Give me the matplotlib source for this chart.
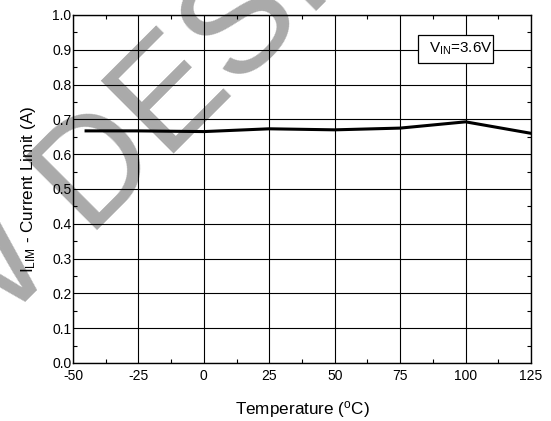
import matplotlib
matplotlib.use("Agg")
import matplotlib.pyplot as plt
from matplotlib.ticker import MultipleLocator
from matplotlib.patches import Rectangle

plt.rcParams['font.family'] = ['Liberation Sans', 'DejaVu Sans']
plt.rcParams['mathtext.fontset'] = 'custom'
plt.rcParams['mathtext.rm'] = 'Liberation Sans'
plt.rcParams['mathtext.it'] = 'Liberation Sans'

# данные
temperature = [-45, -25, 0, 25, 50, 75, 100, 125]
current_limit = [0.667, 0.667, 0.665, 0.673, 0.670, 0.675, 0.693, 0.660]
x_ticks = [-50, -25, 0, 25, 50, 75, 100, 125]
y_ticks = [0.0, 0.1, 0.2, 0.3, 0.4, 0.5, 0.6, 0.7, 0.8, 0.9, 1.0]

fig = plt.figure(figsize=(5.51, 4.21), dpi=100)
ax = fig.add_axes([73 / 551, 1 - 363 / 421, (531 - 73) / 551, (363 - 15) / 421])
ax.patch.set_alpha(0)  # водяной знак виден под сеткой

ax.plot(temperature, current_limit, color='black', linewidth=2.2, zorder=3)

ax.set_xlim(-50, 125)
ax.set_ylim(0, 1.0)
ax.set_xticks(x_ticks)
ax.set_yticks(y_ticks)
ax.set_xticklabels([str(t) for t in x_ticks])
ax.set_yticklabels([f"{v:.1f}" for v in y_ticks])
ax.xaxis.set_minor_locator(MultipleLocator(12.5))
ax.yaxis.set_minor_locator(MultipleLocator(0.05))
ax.tick_params(which='both', direction='in', top=True, right=True, labelsize=10, color='black')
ax.tick_params(which='major', length=0)
ax.tick_params(axis='x', which='major', pad=4)
ax.tick_params(axis='y', which='major', pad=1)
ax.tick_params(which='minor', length=3, width=0.8)
ax.grid(True, which='major', color='black', linewidth=0.8)
for s in ax.spines.values():
    s.set_linewidth(1.0)

ax.set_xlabel("Temperature ($^{\\rm o}$C)", fontsize=12.3, labelpad=12)
ax.set_ylabel("I$_{\\rm LIM}$ - Current Limit (A)", fontsize=12.3, labelpad=10)

# рамка с условием
ax.add_patch(Rectangle((0.753, 0.862), 0.164, 0.081, transform=ax.transAxes,
                       facecolor='white', edgecolor='black', linewidth=0.9, zorder=4))
ax.text(0.847, 0.902, "V$_{\\rm IN}$=3.6V", transform=ax.transAxes, fontsize=11,
        ha='center', va='center', zorder=5)

# водяной знак
fig.text(-188 / 551, 1 - 515 / 421, "NEW DESIGN", rotation=45, rotation_mode='anchor',
         ha='left', va='baseline', fontsize=108, color='#aaaaaa', zorder=-1)

fig.savefig("out.png", dpi=100)
